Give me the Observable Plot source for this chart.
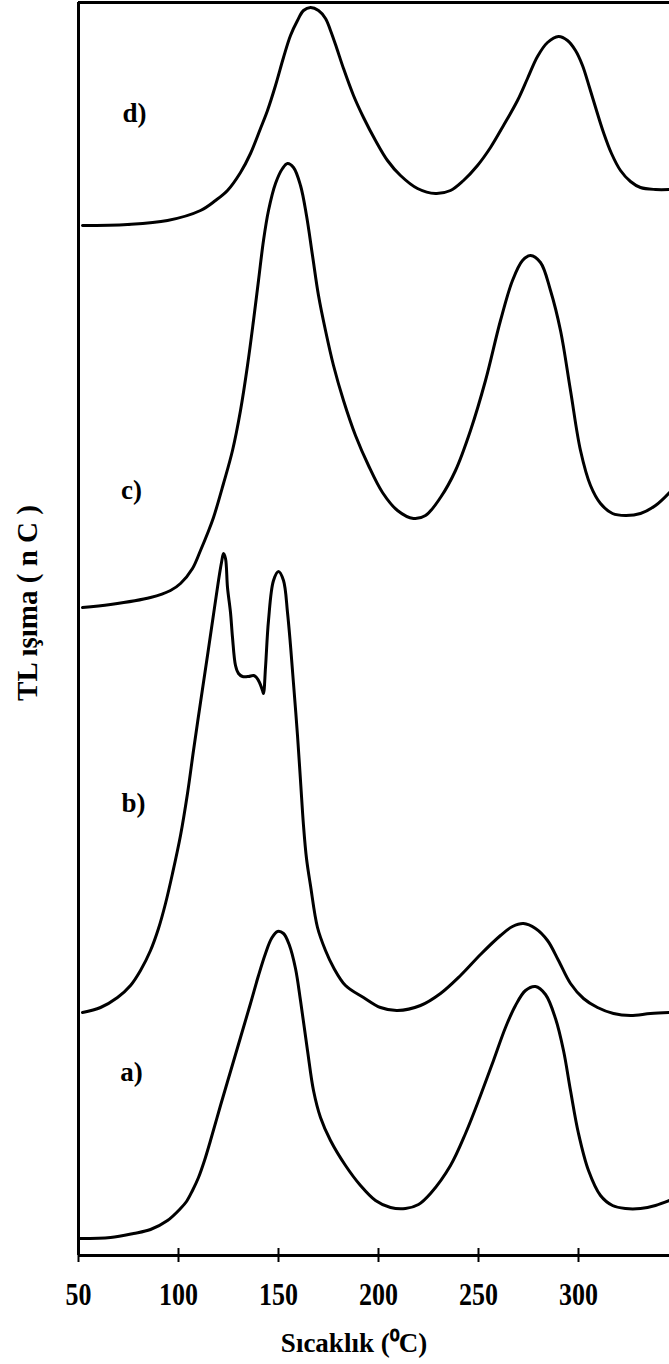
<!DOCTYPE html>
<html>
<head>
<meta charset="utf-8">
<script src="https://cdn.jsdelivr.net/npm/d3@7"></script>
<script src="https://cdn.jsdelivr.net/npm/@observablehq/plot@0.6"></script>
<style>
  html, body { margin: 0; padding: 0; background: #fff; }
  #chart { position: relative; width: 669px; height: 1364px; }
</style>
</head>
<body>
<div id="chart"></div>
<script>
// Axis setup
const xTicks = [50, 100, 150, 200, 250, 300];
const xDomain = [50, 345.5];
const yDomain = [0, 125.3];

// Glow curves, stacked vertically (temperature in °C, TL signal incl. offset)
const tempA = [51, 66, 77.5, 86, 94.5, 101, 104, 107, 110, 113, 116, 121, 126, 131, 136, 140, 143.5, 146.5, 149.5, 152.5, 155.5, 158.5, 161, 164.5, 167.5, 171, 176, 183.5, 191, 198.5, 206, 213.5, 220, 226, 236, 243.5, 251, 257.5, 263.5, 268.5, 273.5, 278.5, 283.5, 288.5, 292.5, 296, 300, 305, 311, 317, 323.5, 331, 338.5, 345.5];
const tlA   = [1.7, 1.8, 2.2, 2.6, 3.5, 4.7, 5.4, 6.5, 7.8, 9.5, 11.5, 15, 18.4, 21.8, 25.2, 28, 30.2, 31.7, 32.4, 32.2, 31, 28.7, 25.5, 20.5, 16.5, 13.8, 11.5, 9, 7, 5.5, 4.8, 4.7, 5.1, 6.2, 9, 12.2, 16, 19.5, 22.8, 25, 26.5, 26.9, 26.1, 23.7, 20.5, 16.5, 12.2, 8.5, 6, 5, 4.7, 4.7, 5, 5.5];

const tempB = [52, 61, 69.5, 76, 81, 86, 90, 93.5, 97, 101, 104.5, 107.5, 111, 114.5, 117.5, 120, 121.5, 122.5, 123.5, 124.5, 126, 127, 128.5, 130, 132, 135, 137.5, 139, 140.5, 142, 142.5, 143.5, 145, 147.5, 150, 152.5, 154.5, 156, 157.5, 159.5, 161, 162.5, 164, 166, 169.5, 173.5, 177.5, 183.5, 192.5, 201, 209.5, 221, 231, 241, 251, 261, 267, 272.5, 278.5, 284.5, 290, 296, 302.5, 309.5, 317.5, 326, 336, 345.5];
const tlB   = [24.3, 24.8, 25.8, 27, 28.5, 30.5, 32.7, 35.2, 38.2, 42, 46.2, 50.5, 55.3, 60, 64.1, 67.5, 69.3, 70.2, 69.7, 66.8, 64.3, 61.8, 59, 58.2, 57.9, 57.9, 58, 57.8, 57.3, 56.5, 56.2, 58.8, 63.5, 67.5, 68.4, 67.5, 64.3, 61, 57.2, 52, 47.5, 43, 39.7, 37, 32.8, 30.5, 28.8, 27, 25.8, 24.8, 24.5, 25, 26.2, 28, 30.1, 32, 32.9, 33.2, 32.7, 31.5, 29.5, 27.2, 25.7, 24.8, 24.2, 24, 24.2, 24.3];

const tempC = [52, 66, 86, 96, 101, 107, 111, 114.5, 117.5, 122.5, 127, 131, 134.5, 137.5, 140, 142.5, 145, 148.5, 152, 154.5, 157.5, 161, 164, 167, 170, 173.5, 177.5, 182.5, 188.5, 195, 202, 209.5, 217.5, 223.5, 231, 238.5, 246, 253.5, 261, 267, 272, 276, 281, 286, 291, 296, 301, 306, 311, 317, 323.5, 331, 338.5, 345.5];
const tlC   = [64.8, 65.1, 65.8, 66.5, 67.2, 68.7, 70.5, 72.2, 73.8, 77.2, 80.5, 84.5, 89, 93.5, 97.5, 101.5, 104.5, 107.2, 108.7, 109.2, 108.8, 107, 104, 100, 96, 92.5, 89, 85.5, 82, 79, 76.3, 74.5, 73.7, 74, 75.8, 78.5, 82.5, 87.5, 93.5, 97.5, 99.5, 100, 99.3, 96.5, 92.5, 86.5, 80.5, 77, 75.2, 74.2, 74, 74.2, 75, 76.3];

const tempD = [52, 74.5, 94.5, 111, 118.5, 124.5, 131, 136, 141, 144.5, 148.5, 152.5, 156, 159.5, 162.5, 166, 170, 173.5, 176, 179, 182.5, 187.5, 192.5, 198.5, 204.5, 211, 219.5, 228.5, 236, 242.5, 249.5, 256, 262.5, 269.5, 274.5, 279.5, 284.5, 290, 294.5, 298.5, 302, 305.5, 309, 312.5, 316.5, 321, 326, 331, 338.5, 345.5];
const tlD   = [103, 103.1, 103.5, 104.5, 105.5, 106.5, 108.3, 110.2, 112.7, 114.5, 117, 119.8, 122, 123.5, 124.5, 124.8, 124.5, 123.7, 122.5, 120.8, 118.7, 116, 113.8, 111.5, 109.5, 108, 106.7, 106.2, 106.5, 107.5, 109, 110.8, 113, 115.5, 117.7, 119.9, 121.3, 121.9, 121.5, 120.5, 119, 116.8, 114.5, 112.3, 110.2, 108.5, 107.4, 106.8, 106.6, 106.6];

// Curve labels and where they sit
const curveNames = ["a)", "b)", "c)", "d)"];
const labelTemp  = [76.5, 77.5, 76.5, 78];
const labelTL    = [18.3, 45.2, 76.5, 114.2];

const series = [
  {name: "a)", t: tempA, v: tlA},
  {name: "b)", t: tempB, v: tlB},
  {name: "c)", t: tempC, v: tlC},
  {name: "d)", t: tempD, v: tlD}
];
const rows = series.flatMap(s => s.t.map((t, i) => ({curve: s.name, temp: t, tl: s.v[i]})));
const labels = curveNames.map((n, i) => ({name: n, temp: labelTemp[i], tl: labelTL[i]}));

const serif = "'Liberation Serif', 'Times New Roman', serif";

const chart = Plot.plot({
  width: 669,
  height: 1364,
  marginLeft: 78,
  marginRight: 0,
  marginTop: 2,
  marginBottom: 109,
  style: {background: "#fff", color: "#000", fontFamily: serif, overflow: "visible"},
  x: {domain: xDomain},
  y: {domain: yDomain, axis: null},
  marks: [
    // frame: left, bottom and top edges
    Plot.ruleX([xDomain[0]], {stroke: "#000", strokeWidth: 3}),
    Plot.ruleY([yDomain[0]], {stroke: "#000", strokeWidth: 3}),
    Plot.ruleY([yDomain[1]], {stroke: "#000", strokeWidth: 3}),
    // inner half of the tick marks
    Plot.ruleX(xTicks.slice(1), {y1: 0, y2: 0.7, stroke: "#000", strokeWidth: 2}),
    Plot.axisX({
      ticks: xTicks,
      tickSize: 7,
      tickPadding: 20,
      strokeWidth: 2,
      fontSize: 26,
      fontWeight: "bold",
      fontFamily: serif,
      fill: "#000",
      label: null
    }),
    Plot.line(rows, {
      x: "temp", y: "tl", z: "curve",
      curve: "catmull-rom",
      stroke: "#000", strokeWidth: 3, strokeLinejoin: "round", strokeLinecap: "round"
    }),
    Plot.text(labels, {
      x: "temp", y: "tl", text: "name", ariaLabel: "curve label",
      fontSize: 27, fontWeight: "bold", fontFamily: serif, fill: "#000"
    }),
    // axis titles
    Plot.text(["Sıcaklık (⁰C)"], {
      frameAnchor: "bottom", dx: -20, dy: 88, lineAnchor: "middle", textAnchor: "middle",
      ariaLabel: "x title",
      fontSize: 27, fontWeight: "bold", fontFamily: serif, fill: "#000"
    }),
    Plot.text(["TL ışıma ( n C )"], {
      frameAnchor: "left", dx: -51, dy: -26, rotate: -90, lineAnchor: "middle", textAnchor: "middle",
      ariaLabel: "y title",
      fontSize: 29, fontWeight: "bold", fontFamily: serif, fill: "#000"
    })
  ]
});

// The printed lettering is taller than it is wide: stretch glyphs vertically
function stretch(selector, sy) {
  chart.querySelectorAll(selector).forEach(t => {
    const tr = t.getAttribute("transform");
    if (tr) {
      t.setAttribute("transform", tr + ` scale(1,${sy})`);
    } else {
      const x = +(t.getAttribute("x") || 0), y = +(t.getAttribute("y") || 0);
      t.removeAttribute("x"); t.removeAttribute("y");
      t.setAttribute("transform", `translate(${x},${y}) scale(1,${sy})`);
    }
  });
}
stretch('g[aria-label="x-axis tick label"] text', 1.2);
stretch('g[aria-label="curve label"] text', 1.1);

document.getElementById("chart").appendChild(chart);
</script>
</body>
</html>
